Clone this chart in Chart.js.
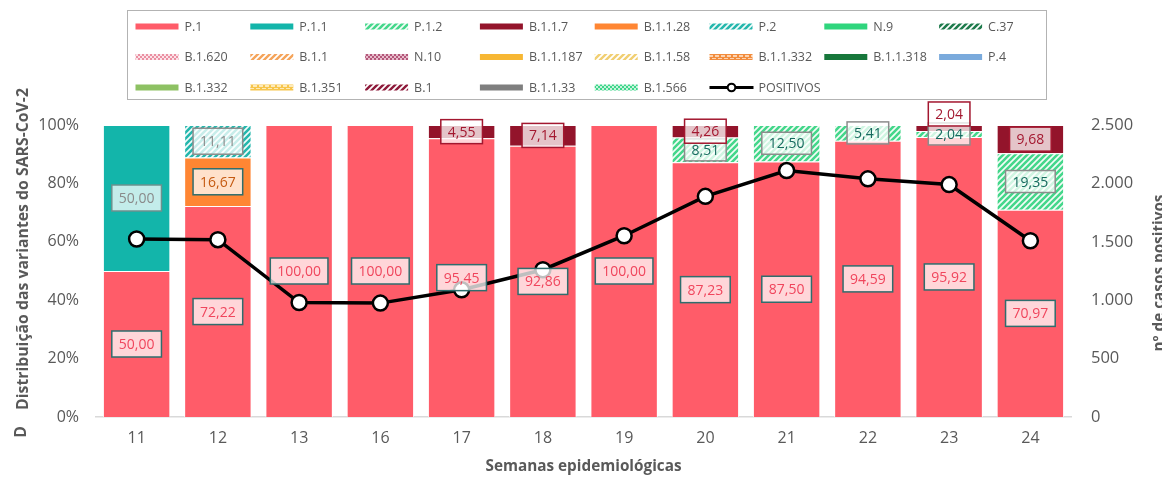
<!DOCTYPE html>
<html>
<head>
<meta charset="utf-8">
<script src="https://cdn.jsdelivr.net/npm/chart.js@4.4.1/dist/chart.umd.min.js"></script>
<style>
  html, body { margin: 0; padding: 0; background: #ffffff; }
  #wrap { width: 1162px; height: 480px; position: relative; }
</style>
</head>
<body>
<div id="wrap"><canvas id="c"></canvas></div>
<script>
// ---- data ----
const weeks = ['11', '12', '13', '16', '17', '18', '19', '20', '21', '22', '23', '24'];
const variants = ['P.1', 'P.1.1', 'P.1.2', 'B.1.1.7', 'B.1.1.28', 'P.2', 'N.9', 'C.37',
  'B.1.620', 'B.1.1', 'N.10', 'B.1.1.187', 'B.1.1.58', 'B.1.1.332', 'B.1.1.318', 'P.4',
  'B.1.332', 'B.1.351', 'B.1', 'B.1.1.33', 'B.1.566'];

// share of each variant per week (%)
const pctP1     = [50.00, 72.22, 100.00, 100.00, 95.45, 92.86, 100.00, 87.23, 87.50, 94.59, 95.92, 70.97];
const pctP11    = [50.00, null, null, null, null, null, null, null, null, null, null, null];
const pctP12    = [null, null, null, null, null, null, null, 8.51, 12.50, 5.41, 2.04, 19.35];
const pctB117   = [null, null, null, null, 4.55, 7.14, null, 4.26, null, null, 2.04, 9.68];
const pctB1128  = [null, 16.67, null, null, null, null, null, null, null, null, null, null];
const pctP2     = [null, 11.11, null, null, null, null, null, null, null, null, null, null];

// positive cases per week
const positivos = [1524, 1518, 980, 975, 1089, 1261, 1552, 1889, 2110, 2039, 1990, 1509];

const pctTickLabels   = ['0%', '20%', '40%', '60%', '80%', '100%'];
const casesTickLabels = ['0', '500', '1.000', '1.500', '2.000', '2.500'];

const seriesValues = {
  'P.1': pctP1, 'P.1.1': pctP11, 'P.1.2': pctP12,
  'B.1.1.7': pctB117, 'B.1.1.28': pctB1128, 'P.2': pctP2
};

// ---- fills ----
const canvas = document.getElementById('c');
const mainCtx = canvas.getContext('2d');

function tile(size, draw) {
  const t = document.createElement('canvas');
  t.width = size; t.height = size;
  const g = t.getContext('2d');
  draw(g, size);
  return mainCtx.createPattern(t, 'repeat');
}
function stripes(fg, bg, lw) {
  return tile(6, (g, s) => {
    g.fillStyle = bg; g.fillRect(0, 0, s, s);
    g.strokeStyle = fg; g.lineWidth = lw || 2.2;
    g.beginPath();
    g.moveTo(-1, s + 1); g.lineTo(s + 1, -1);
    g.moveTo(-1, 1); g.lineTo(1, -1);
    g.moveTo(s - 1, s + 1); g.lineTo(s + 1, s - 1);
    g.stroke();
  });
}
function dots(fg, bg) {
  return tile(4, (g, s) => {
    g.fillStyle = bg; g.fillRect(0, 0, s, s);
    g.fillStyle = fg; g.fillRect(0, 0, 2, 2); g.fillRect(2, 2, 2, 2);
  });
}
function bricks(fg, bg) {
  return tile(6, (g, s) => {
    g.fillStyle = fg; g.fillRect(0, 0, s, s);
    g.fillStyle = bg; g.fillRect(1, 1, 4, 2); g.fillRect(0, 4, 2, 1); g.fillRect(4, 4, 2, 1);
  });
}

const fills = {
  'P.1': '#ff5c69',
  'P.1.1': '#13b5aa',
  'P.1.2': stripes('#44d78b', '#f4fcf7', 2.6),
  'B.1.1.7': '#93142b',
  'B.1.1.28': '#ff8633',
  'P.2': stripes('#25b7ad', '#f2fbfa', 2.6),
  'N.9': '#2fd57d',
  'C.37': stripes('#1e7b4c', '#ffffff', 2.6),
  'B.1.620': dots('#eb8fa2', '#fbe3e8'),
  'B.1.1': stripes('#f5a45a', '#ffffff', 2.4),
  'N.10': dots('#b4577a', '#e7bccb'),
  'B.1.1.187': '#f7b733',
  'B.1.1.58': stripes('#f1cf72', '#ffffff', 2.4),
  'B.1.1.332': bricks('#f28c3c', '#fbd2b0'),
  'B.1.1.318': '#17773b',
  'P.4': '#7aaadc',
  'B.1.332': '#8dc163',
  'B.1.351': bricks('#f7c54a', '#fdeab8'),
  'B.1': stripes('#8e1a3b', '#ffffff', 2.4),
  'B.1.1.33': '#7f7f7f',
  'B.1.566': dots('#3dd68a', '#c8f3dc')
};

// data label boxes
const labelStyle = {
  'P.1':      { stroke: '#2f6d6d', text: '#f0455c', h: 26 },
  'P.1.1':    { stroke: '#6b918e', text: '#8a8a8a', h: 26 },
  'P.1.2':    { stroke: '#8c8c8c', text: '#17695f', h: 22 },
  'B.1.1.7':  { stroke: '#a3172f', text: '#a3172f', h: 24 },
  'B.1.1.28': { stroke: '#2f6d6d', text: '#c55a11', h: 26 },
  'P.2':      { stroke: '#8c8c8c', text: '#8c8c8c', h: 26 }
};
const labelNudge = { 'B.1.1.7@23': -14 };

const FONT = '"Open Sans", "Noto Sans", sans-serif';
const GREY = '#595959';

const barDatasets = variants.map(name => ({
  type: 'bar',
  label: name,
  data: seriesValues[name] || weeks.map(() => null),
  backgroundColor: fills[name],
  borderColor: 'rgba(255,255,255,0.85)',
  borderWidth: 1,
  yAxisID: 'y',
  stack: 'variantes',
  order: 1,
  barPercentage: 0.83,
  categoryPercentage: 1
}));

const lineDataset = {
  type: 'line',
  label: 'POSITIVOS',
  data: positivos,
  yAxisID: 'y2',
  borderColor: '#000000',
  borderWidth: 3.5,
  pointRadius: 7.5,
  pointBorderWidth: 2.5,
  pointBackgroundColor: '#ffffff',
  pointBorderColor: '#000000',
  tension: 0,
  order: 0
};

function fittedFont(ctx, text, width) {
  ctx.font = 'bold 100px ' + FONT;
  const s = 100 * width / ctx.measureText(text).width;
  return 'bold ' + s.toFixed(2) + 'px ' + FONT;
}

const valueLabels = {
  id: 'valueLabels',
  afterDatasetsDraw(chart) {
    const ctx = chart.ctx;
    ctx.save();
    ctx.font = '14px ' + FONT;
    ctx.textAlign = 'center';
    ctx.textBaseline = 'middle';
    chart.data.datasets.forEach((ds, di) => {
      const st = labelStyle[ds.label];
      if (ds.type !== 'bar' || !st) return;
      const meta = chart.getDatasetMeta(di);
      ds.data.forEach((v, i) => {
        if (v == null) return;
        const el = meta.data[i];
        const txt = v.toFixed(2).replace('.', ',');
        const cx = el.x;
        const cy = (el.y + el.base) / 2 + (labelNudge[ds.label + '@' + weeks[i]] || 0);
        const w = ctx.measureText(txt).width + 14;
        const h = st.h;
        ctx.fillStyle = 'rgba(255,255,255,0.75)';
        ctx.fillRect(cx - w / 2, cy - h / 2, w, h);
        ctx.strokeStyle = st.stroke;
        ctx.lineWidth = 1.5;
        ctx.strokeRect(cx - w / 2, cy - h / 2, w, h);
        ctx.fillStyle = st.text;
        ctx.fillText(txt, cx, cy + 1);
      });
    });
    ctx.restore();
  }
};

const legendAndTitles = {
  id: 'legendAndTitles',
  afterDraw(chart) {
    const ctx = chart.ctx;
    ctx.save();
    // legend frame
    ctx.strokeStyle = '#b3b3b3';
    ctx.lineWidth = 1;
    ctx.strokeRect(127.5, 10.5, 919, 89);
    const items = chart.data.datasets.filter(d => d.type === 'bar').map(d => d.label);
    items.push('POSITIVOS');
    ctx.font = '12.5px ' + FONT;
    ctx.textBaseline = 'middle';
    ctx.textAlign = 'left';
    items.forEach((name, k) => {
      const col = k % 8, row = Math.floor(k / 8);
      const x = 135.5 + col * 114.8;
      const y = 26.5 + row * 30.5;
      if (name === 'POSITIVOS') {
        ctx.strokeStyle = '#000';
        ctx.lineWidth = 3;
        ctx.beginPath(); ctx.moveTo(x, y); ctx.lineTo(x + 44, y); ctx.stroke();
        ctx.beginPath(); ctx.arc(x + 22, y, 3.8, 0, Math.PI * 2);
        ctx.fillStyle = '#fff'; ctx.fill();
        ctx.lineWidth = 2; ctx.stroke();
      } else {
        ctx.fillStyle = fills[name];
        ctx.fillRect(x, y - 3, 43, 6);
      }
      ctx.fillStyle = GREY;
      ctx.fillText(name, x + 49, y + 0.5);
    });

    // axis titles
    ctx.fillStyle = GREY;
    const leftTitle = 'Distribuição das variantes do SARS-CoV-2';
    ctx.save();
    ctx.translate(28, 249);
    ctx.rotate(-Math.PI / 2);
    ctx.font = fittedFont(ctx, leftTitle, 322);
    ctx.textAlign = 'center';
    ctx.textBaseline = 'alphabetic';
    ctx.fillText(leftTitle, 0, 0);
    ctx.restore();

    ctx.save();
    ctx.translate(26, 432);
    ctx.rotate(-Math.PI / 2);
    ctx.font = fittedFont(ctx, leftTitle, 322);
    ctx.textAlign = 'center';
    ctx.textBaseline = 'alphabetic';
    ctx.fillText('D', 0, 0);
    ctx.restore();

    const rightTitle = 'nº de casos positivos';
    ctx.save();
    ctx.translate(1164, 273);
    ctx.rotate(-Math.PI / 2);
    ctx.font = fittedFont(ctx, rightTitle, 157);
    ctx.textAlign = 'center';
    ctx.textBaseline = 'alphabetic';
    ctx.fillText(rightTitle, 0, 0);
    ctx.restore();

    const xTitle = 'Semanas epidemiológicas';
    ctx.font = fittedFont(ctx, xTitle, 196);
    ctx.textAlign = 'center';
    ctx.textBaseline = 'middle';
    ctx.fillText(xTitle, (chart.chartArea.left + chart.chartArea.right) / 2, 467);
    ctx.restore();
  }
};

new Chart(canvas, {
  data: { labels: weeks, datasets: [...barDatasets, lineDataset] },
  options: {
    responsive: true,
    maintainAspectRatio: false,
    animation: false,
    layout: { padding: { top: 125, left: 0, right: 0, bottom: 0 } },
    plugins: { legend: { display: false }, tooltip: { enabled: false } },
    scales: {
      x: {
        stacked: true,
        grid: { display: false, drawTicks: false },
        border: { display: true, color: '#d9d9d9', width: 1.5 },
        ticks: { color: GREY, font: { family: FONT, size: 16 }, padding: 12 },
        afterFit(s) { s.height = 63; }
      },
      y: {
        position: 'left',
        stacked: true,
        min: 0, max: 100,
        grid: { display: false, drawTicks: false },
        border: { display: false },
        ticks: {
          stepSize: 20,
          color: GREY,
          font: { family: FONT, size: 16 },
          padding: 17,
          callback: v => pctTickLabels[Math.round(v / 20)]
        },
        afterFit(s) { s.width = 96; }
      },
      y2: {
        position: 'right',
        min: 0, max: 2500,
        grid: { display: false, drawTicks: false },
        border: { display: false },
        ticks: {
          stepSize: 500,
          color: GREY,
          font: { family: FONT, size: 16.5 },
          padding: 20,
          callback: v => casesTickLabels[Math.round(v / 500)]
        },
        afterFit(s) { s.width = 91; }
      }
    }
  },
  plugins: [valueLabels, legendAndTitles]
});
</script>
</body>
</html>
